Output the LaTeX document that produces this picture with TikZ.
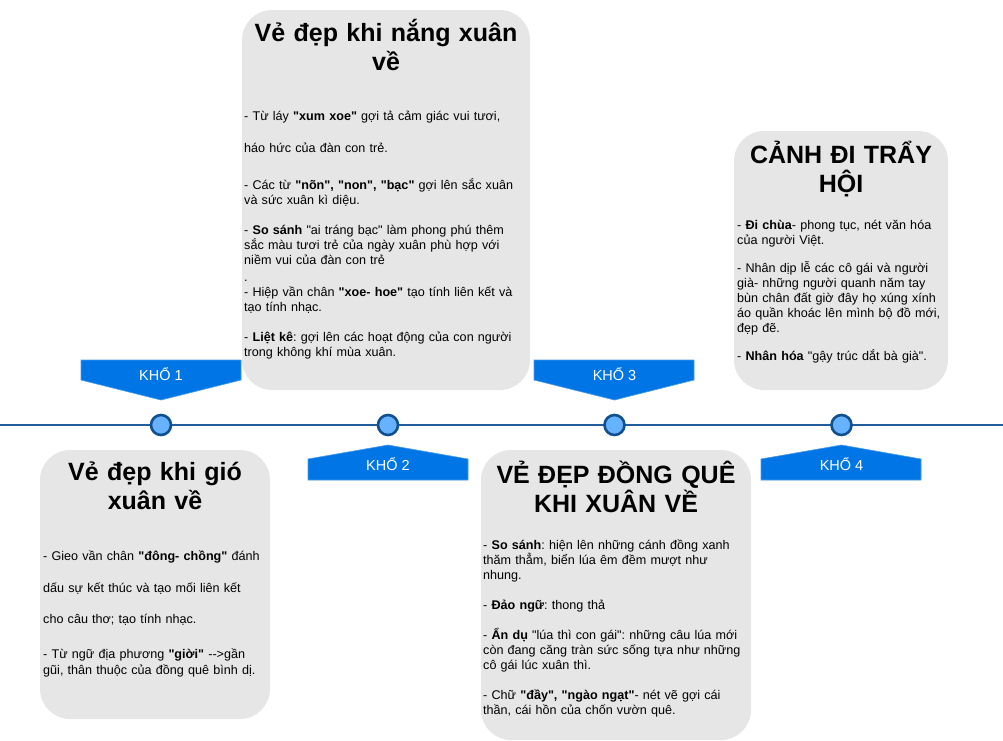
\documentclass[tikz,border=0pt]{standalone}
\usepackage{fontspec}
\setmainfont{Liberation Sans}[Ligatures=TeXOff]
\frenchspacing
\usetikzlibrary{positioning}

\definecolor{cardgray}{HTML}{E6E6E6}
\definecolor{khoblue}{HTML}{0075E6}
\definecolor{khoedge}{HTML}{4A9BEA}
\definecolor{lineblue}{HTML}{215C9C}
\definecolor{dotfill}{HTML}{66B2FF}
\definecolor{dotedge}{HTML}{10508F}

\tikzset{
  card/.style = {fill=cardgray, rounded corners=30pt},
  heading/.style = {anchor=base, inner sep=0pt, text width=290pt, align=center,
                    font=\bfseries\fontsize{25}{29}\selectfont},
  body/.style = {anchor=base west, inner sep=0pt, text width=300pt, align=left,
                 font=\fontsize{12.6}{15}\selectfont},
  dot/.style = {circle, draw=dotedge, fill=dotfill, line width=2.6pt,
                minimum size=20pt, inner sep=0pt},
  kho/.style = {fill=khoblue, draw=khoedge, line width=0.6pt},
  khotext/.style = {anchor=base, inner sep=0pt, text=white,
                    font=\fontsize{14.5}{16}\selectfont}
}

\begin{document}
\begin{tikzpicture}[x=1pt, y=-1pt]
  \useasboundingbox (0,0) rectangle (1003,740);

  % cards
  \fill[card] (242,10) rectangle (530,390);
  \fill[card] (734,131) rectangle (948,390);
  \fill[card] (40,450) rectangle (270,719);
  \fill[card] (481,450) rectangle (751,740);

  % timeline
  \coordinate (start) at (0,425);
  \coordinate (end) at (1003,425);
  \draw[lineblue, line width=2pt] (start) -- (end);
  \node[dot] (d1) at (161,425) {};
  \node[dot] (d2) at (388,425) {};
  \node[dot] (d3) at (614.5,425) {};
  \node[dot] (d4) at (841.5,425) {};

  % labels
  \filldraw[kho] (81,360) -- (241,360) -- (241,380) -- (161,400) -- (81,380) -- cycle;
  \filldraw[kho] (308,480) -- (468,480) -- (468,459) -- (388,445) -- (308,459) -- cycle;
  \filldraw[kho] (534,360) -- (694,360) -- (694,380) -- (614.5,400) -- (534,380) -- cycle;
  \filldraw[kho] (761,480) -- (921,480) -- (921,459) -- (841.5,445) -- (761,459) -- cycle;
  \node[khotext] (k1) at (161,380) {KHỔ 1};
  \node[khotext] (k2) at (388,470) {KHỔ 2};
  \node[khotext] (k3) at (614.5,380) {KHỔ 3};
  \node[khotext] (k4) at (841.5,470) {KHỔ 4};

  % headings
  \node[heading] (h2) at (386,41) {Vẻ đẹp khi nắng xuân\\về};
  \node[heading] (h4) at (841,163) {CẢNH ĐI TRẨY\\HỘI};
  \node[heading] (h1) at (155,480) {Vẻ đẹp khi gió\\xuân về};
  \node[heading] (h3) at (616,483) {VẺ ĐẸP ĐỒNG QUÊ\\KHI XUÂN VỀ};

  % texts
  \node[body] (t2) at (244,120.5) {- Từ láy \textbf{"xum xoe"} gợi tả cảm giác vui tươi,\\[17pt]
    háo hức của đàn con trẻ.\\[22pt]
    - Các từ \textbf{"nõn", "non", "bạc"} gợi lên sắc xuân\\
    và sức xuân kì diệu.\\[15pt]
    - \textbf{So sánh} "ai tráng bạc" làm phong phú thêm\\
    sắc màu tươi trẻ của ngày xuân phù hợp với\\
    niềm vui của đàn con trẻ\\[2pt]
    .\\
    - Hiệp vần chân \textbf{"xoe- hoe"} tạo tính liên kết và\\
    tạo tính nhạc.\\[15pt]
    - \textbf{Liệt kê}: gợi lên các hoạt động của con người\\
    trong không khí mùa xuân.};
  \node[body] (t4) at (737,229) {- \textbf{Đi chùa}- phong tục, nét văn hóa\\
    của người Việt.\\[13pt]
    - Nhân dịp lễ các cô gái và người\\
    già- những người quanh năm tay\\
    bùn chân đất giờ đây họ xúng xính\\
    áo quần khoác lên mình bộ đồ mới,\\
    đẹp đẽ.\\[13pt]
    - \textbf{Nhân hóa} "gậy trúc dắt bà già".};
  \node[body] (t1) at (43,560.5) {- Gieo vần chân \textbf{"đông- chồng"} đánh\\[16.5pt]
    dấu sự kết thúc và tạo mối liên kết\\[16.5pt]
    cho câu thơ; tạo tính nhạc.\\[20pt]
    - Từ ngữ địa phương \textbf{"giời"} -->gần\\[1pt]
    gũi, thân thuộc của đồng quê bình dị.};
  \node[body] (t3) at (483,549) {- \textbf{So sánh}: hiện lên những cánh đồng xanh\\
    thăm thẳm, biển lúa êm đềm mượt như\\
    nhung.\\[15pt]
    - \textbf{Đảo ngữ}: thong thả\\[15pt]
    - \textbf{Ẩn dụ} "lúa thì con gái": những câu lúa mới\\
    còn đang căng tràn sức sống tựa như những\\
    cô gái lúc xuân thì.\\[15pt]
    - Chữ \textbf{"đầy", "ngào ngạt"}- nét vẽ gợi cái\\
    thần, cái hồn của chốn vườn quê.};
\end{tikzpicture}
\end{document}
